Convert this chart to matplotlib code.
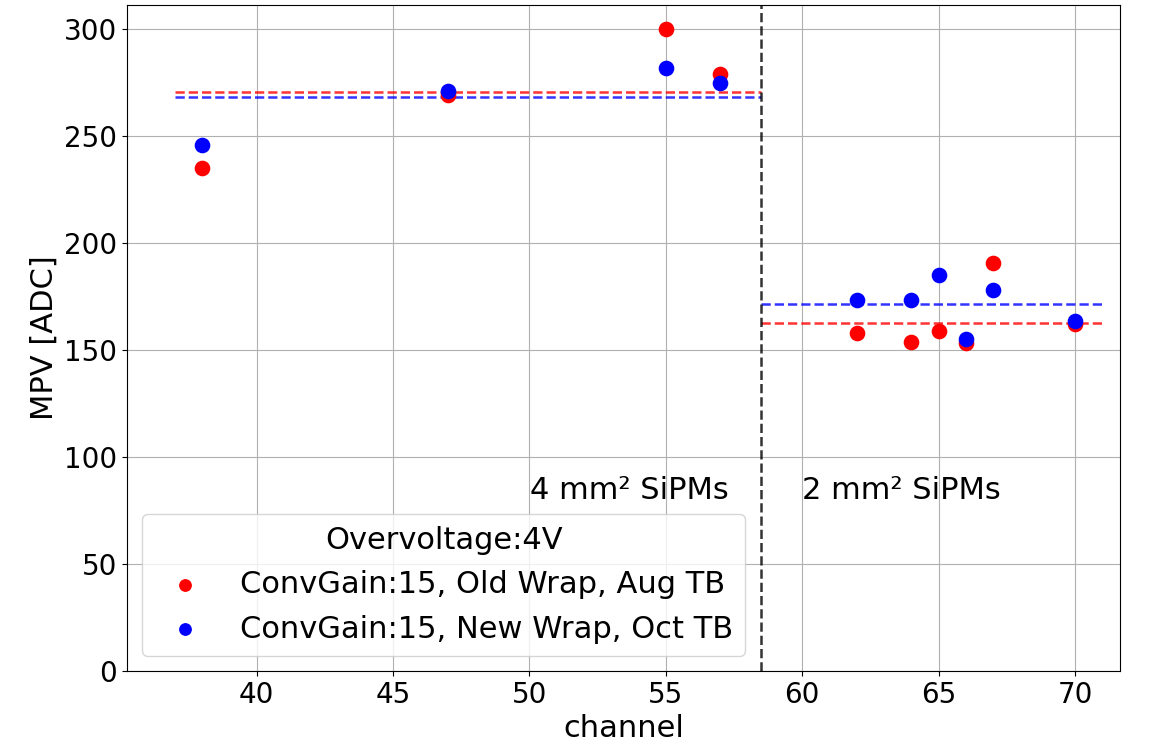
import numpy as np
import matplotlib
matplotlib.use('Agg')
import matplotlib.pyplot as plt

# MPV values read per channel
channels = [38, 47, 55, 57, 62, 64, 65, 66, 67, 70]
mpv_aug = [234.7, 268.8, 299.6, 278.6, 157.9, 153.7, 158.6, 153.0, 190.7, 162.0]
mpv_oct = [245.4, 271.0, 281.8, 274.4, 173.1, 173.1, 185.1, 154.9, 177.8, 163.5]

split = 58.5
left_range = (37, split)
right_range = (split, 71)

plt.rcParams['font.size'] = 22
plt.rcParams['xtick.labelsize'] = 20
plt.rcParams['ytick.labelsize'] = 20

fig = plt.figure(figsize=(11.64, 7.41), dpi=100)
ax = fig.add_axes([127 / 1164, 1 - 671 / 741, (1120 - 127) / 1164, (671 - 5) / 741])

ch = np.array(channels)
aug = np.array(mpv_aug)
oct_ = np.array(mpv_oct)
left = ch < split

ax.scatter(ch, aug, color='red', s=105, label='ConvGain:15, Old Wrap, Aug TB', zorder=3)
ax.scatter(ch, oct_, color='blue', s=105, label='ConvGain:15, New Wrap, Oct TB', zorder=3)

# mean lines for each SiPM group
ax.hlines(aug[left].mean(), *left_range, colors='red', linestyles='--', alpha=0.8, lw=1.8)
ax.hlines(oct_[left].mean(), *left_range, colors='blue', linestyles='--', alpha=0.8, lw=1.8)
ax.hlines(aug[~left].mean(), *right_range, colors='red', linestyles='--', alpha=0.8, lw=1.8)
ax.hlines(oct_[~left].mean(), *right_range, colors='blue', linestyles='--', alpha=0.8, lw=1.8)

ax.axvline(split, color='black', linestyle='--', alpha=0.8, lw=1.8)

ax.text(57.3, 84.5, '4 mm² SiPMs', ha='right', va='center')
ax.text(60.0, 84.5, '2 mm² SiPMs', ha='left', va='center')

ax.set_xlim(35.25, 71.65)
ax.set_ylim(0, 311)
ax.set_xlabel('channel')
ax.set_ylabel('MPV [ADC]')
ax.grid(True)
ax.legend(title='Overvoltage:4V', loc='lower left', markerscale=0.8)

fig.savefig('out.png')
